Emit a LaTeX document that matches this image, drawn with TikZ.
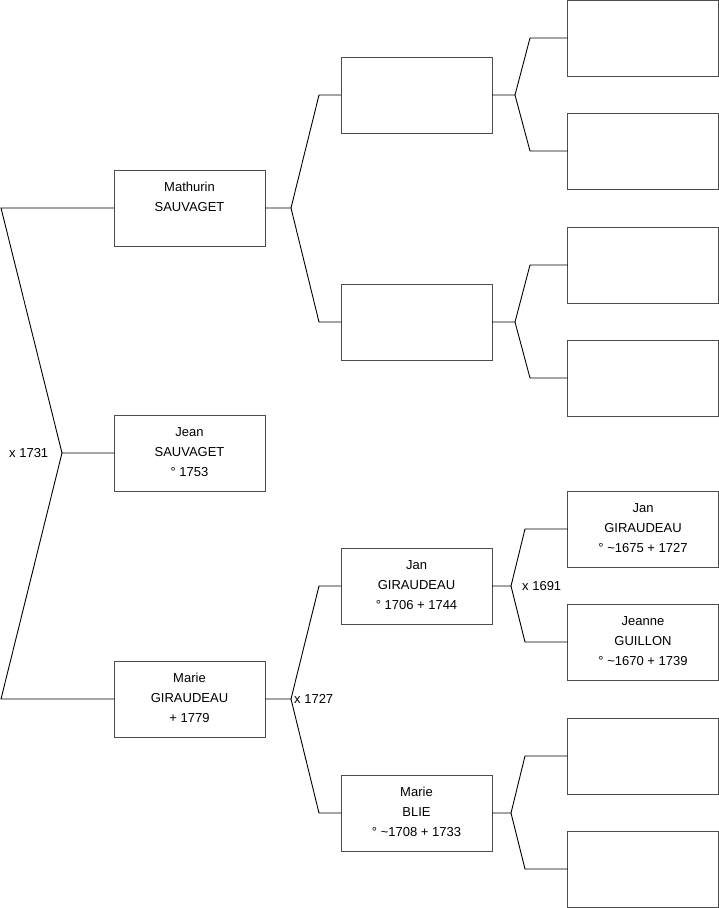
\documentclass[tikz,border=0pt]{standalone}
\usepackage{fontspec}
\setmainfont{Liberation Sans}
\newcommand{\pbtext}[1]{\parbox[c][76pt][t]{151pt}{\fontsize{13}{20}\selectfont\centering\rule{0pt}{21.5pt}#1\par}}
\tikzset{
  person/.style={draw=black!70, line width=1pt, inner sep=0pt, outer sep=0pt,
    minimum width=151pt, minimum height=76pt, font=\fontsize{13}{20}\selectfont},
  link/.style={draw=black, line width=0.9pt},
  lbl/.style={inner sep=0pt, font=\fontsize{13}{15}\selectfont}
}
\begin{document}
\begin{tikzpicture}[x=1pt,y=-1pt]
\useasboundingbox (0,0) rectangle (719,908);
% generation 1
\node[person] (mathurin) at (189.5,208) {\pbtext{Mathurin\\SAUVAGET}};
\node[person] (jean) at (189.5,453) {\pbtext{Jean\\SAUVAGET\\° 1753}};
\node[person] (marie) at (189.5,699) {\pbtext{Marie\\GIRAUDEAU\\+ 1779}};
% generation 2
\node[person] (p1) at (416.5,95) {};
\node[person] (p2) at (416.5,322) {};
\node[person] (jan) at (416.5,586) {\pbtext{Jan\\GIRAUDEAU\\° 1706 + 1744}};
\node[person] (blie) at (416.5,813) {\pbtext{Marie\\BLIE\\° \textasciitilde1708 + 1733}};
% generation 3
\node[person] (g1) at (643,38) {};
\node[person] (g2) at (643,151) {};
\node[person] (g3) at (643,265) {};
\node[person] (g4) at (643,378) {};
\node[person] (jan2) at (643,529) {\pbtext{Jan\\GIRAUDEAU\\° \textasciitilde1675 + 1727}};
\node[person] (jeanne) at (643,642) {\pbtext{Jeanne\\GUILLON\\° \textasciitilde1670 + 1739}};
\node[person] (g7) at (643,756) {};
\node[person] (g8) at (643,869) {};
% labels
\node[lbl, anchor=west] (m1731) at (9,453) {x 1731};
\node[lbl, anchor=west] (m1727) at (294,699) {x 1727};
\node[lbl, anchor=west] (m1691) at (522,586) {x 1691};
% fork coordinates
\coordinate (v0) at (62,453);
\coordinate (v0a) at (1,208);
\coordinate (v0b) at (1,699);
\coordinate (v1) at (291,208);
\coordinate (v1a) at (319,95);
\coordinate (v1b) at (319,322);
\coordinate (v2) at (291,699);
\coordinate (v2a) at (319,586);
\coordinate (v2b) at (319,813);
\coordinate (v3) at (515,95);
\coordinate (v3a) at (530,38);
\coordinate (v3b) at (530,151);
\coordinate (v4) at (515,322);
\coordinate (v4a) at (530,265);
\coordinate (v4b) at (530,378);
\coordinate (v5) at (511,586);
\coordinate (v5a) at (525,529);
\coordinate (v5b) at (525,642);
\coordinate (v6) at (511,813);
\coordinate (v6a) at (525,756);
\coordinate (v6b) at (525,869);
% connectors
\draw[link] (jean.west) -- (v0) -- (v0a) -- (mathurin.west);
\draw[link] (v0) -- (v0b) -- (marie.west);
\draw[link] (mathurin.east) -- (v1) -- (v1a) -- (p1.west);
\draw[link] (v1) -- (v1b) -- (p2.west);
\draw[link] (marie.east) -- (v2) -- (v2a) -- (jan.west);
\draw[link] (v2) -- (v2b) -- (blie.west);
\draw[link] (p1.east) -- (v3) -- (v3a) -- (g1.west);
\draw[link] (v3) -- (v3b) -- (g2.west);
\draw[link] (p2.east) -- (v4) -- (v4a) -- (g3.west);
\draw[link] (v4) -- (v4b) -- (g4.west);
\draw[link] (jan.east) -- (v5) -- (v5a) -- (jan2.west);
\draw[link] (v5) -- (v5b) -- (jeanne.west);
\draw[link] (blie.east) -- (v6) -- (v6a) -- (g7.west);
\draw[link] (v6) -- (v6b) -- (g8.west);
\end{tikzpicture}
\end{document}
